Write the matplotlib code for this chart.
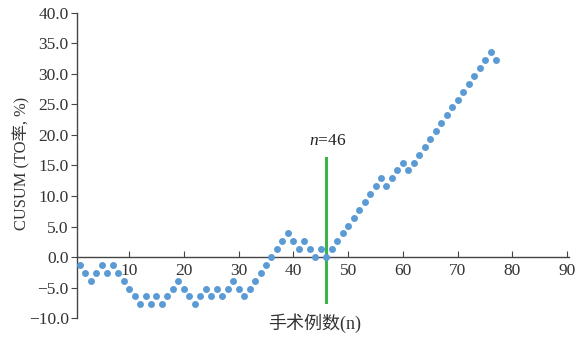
import matplotlib
matplotlib.use("Agg")
import matplotlib.pyplot as plt
from matplotlib.ticker import FuncFormatter

plt.rcParams['font.family'] = ['Liberation Serif', 'Noto Sans CJK SC', 'DejaVu Sans']
plt.rcParams['mathtext.fontset'] = 'custom'
plt.rcParams['mathtext.it'] = 'Liberation Serif:italic'
plt.rcParams['mathtext.rm'] = 'Liberation Serif'

# case number and CUSUM value
cases = list(range(1, 78))
cusum = [
    -1.29, -2.58, -3.87, -2.58, -1.29, -2.58, -1.29, -2.58, -3.87, -5.16,
    -6.45, -7.74, -6.45, -7.74, -6.45, -7.74, -6.45, -5.16, -3.87, -5.16,
    -6.45, -7.74, -6.45, -5.16, -6.45, -5.16, -6.45, -5.16, -3.87, -5.16,
    -6.45, -5.16, -3.87, -2.58, -1.29, 0.00, 1.29, 2.58, 3.87, 2.58,
    1.29, 2.58, 1.29, 0.00, 1.29, 0.00, 1.29, 2.58, 3.87, 5.16,
    6.45, 7.74, 9.03, 10.32, 11.61, 12.90, 11.61, 12.90, 14.19, 15.48,
    14.19, 15.48, 16.77, 18.06, 19.35, 20.64, 21.93, 23.22, 24.51, 25.80,
    27.09, 28.38, 29.67, 30.96, 32.25, 33.54, 32.25,
]
cut_n = 46
cut_line = (-7.4, 16.3)
x_ticks = [10, 20, 30, 40, 50, 60, 70, 80, 90]
y_ticks = [-10, -5, 0, 5, 10, 15, 20, 25, 30, 35, 40]

fig = plt.figure(figsize=(5.84, 3.37), dpi=100)
ax = fig.add_axes([0.132, 0.056, 0.842, 0.906])

ax.plot(cases, cusum, 'o', color='#5b9bd5', markersize=5.0, markeredgewidth=0, zorder=3)
ax.plot([cut_n, cut_n], cut_line, color='#3db34a', linewidth=2.2, zorder=2)
ax.text(cut_n + 0.3, 19.0, r'$n$=46', ha='center', va='center', fontsize=12.5, color='#222222')

ax.set_xlim(0.5, 90.3)
ax.set_ylim(-10, 40)
ax.spines['top'].set_visible(False)
ax.spines['right'].set_visible(False)
ax.spines['bottom'].set_position(('data', 0))
for s in ('left', 'bottom'):
    ax.spines[s].set_color('#444444')
    ax.spines[s].set_linewidth(1.0)

ax.set_xticks(x_ticks)
ax.set_yticks(y_ticks)
ax.yaxis.set_major_formatter(FuncFormatter(lambda v, p: f'{v:.1f}'.replace('-', '\u2212')))
ax.tick_params(axis='x', direction='in', length=4, colors='#444444', labelcolor='#333333',
               labelsize=12.5, pad=4)
ax.tick_params(axis='y', direction='out', length=4, colors='#444444', labelcolor='#333333',
               labelsize=12.5, pad=2)

fig.text(0.038, 0.515, 'CUSUM (TO率, %)', rotation=90, ha='center', va='center',
         fontsize=11.8, color='#333333')
fig.text(0.539, 0.042, '手术例数(n)', ha='center', va='center', fontsize=13, color='#333333')

fig.savefig('out.png', dpi=100)
